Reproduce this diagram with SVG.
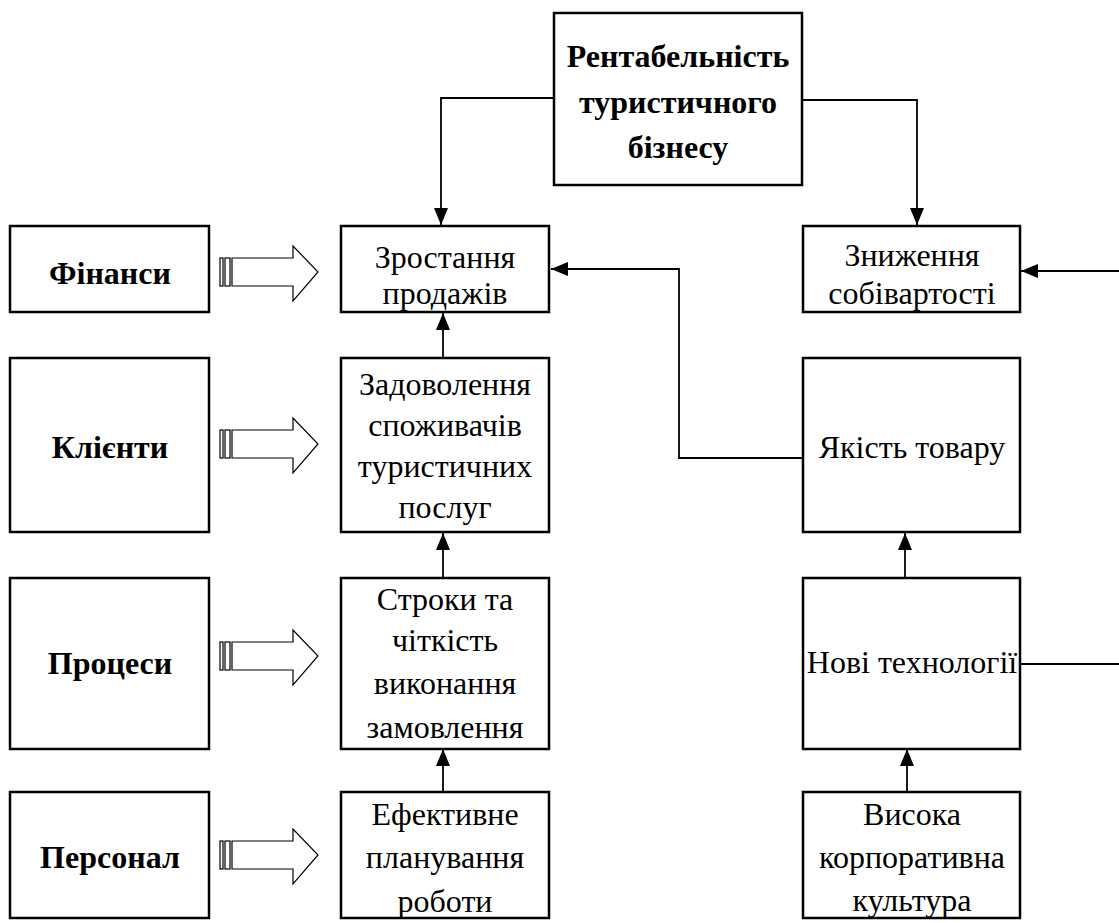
<svg xmlns="http://www.w3.org/2000/svg" width="1119" height="923" viewBox="0 0 1119 923">
<defs>
<style>
.box{fill:#fff;stroke:#000;stroke-width:2.5}
.t{font-family:'Liberation Serif','Times New Roman',serif;font-size:32px;fill:#000;text-anchor:middle}
.b{font-weight:bold}
.c{fill:none;stroke:#000;stroke-width:1.8}
.ba{fill:#fff;stroke:#000;stroke-width:1.2}
</style>
<marker id="ahL" viewBox="0 0 17 14" refX="17" refY="7" markerWidth="17" markerHeight="14" markerUnits="userSpaceOnUse" orient="auto">
<path d="M0,0 L17,7 L0,14 Z" fill="#000"/>
</marker>
<g id="blockArrow">
<rect x="0" y="-14" width="3" height="28" class="ba"/>
<rect x="5" y="-14" width="5" height="28" class="ba"/>
<path d="M12,-14 H73 V-26 L98,0 L73,29 V14 H12 Z" class="ba"/>
</g>
</defs>
<rect width="1119" height="923" fill="#fff"/>

<g id="connectors">
<path class="c" d="M554,98 H441 V225" marker-end="url(#ahL)"/>
<path class="c" d="M802,100 H917 V225" marker-end="url(#ahL)"/>
<path class="c" d="M1119,271 H1021" marker-end="url(#ahL)"/>
<path class="c" d="M1020,664 H1119"/>
<path class="c" d="M804,458 H679 V269 H551" marker-end="url(#ahL)"/>
<path class="c" d="M443,357 V313" marker-end="url(#ahL)"/>
<path class="c" d="M443,577 V533" marker-end="url(#ahL)"/>
<path class="c" d="M443,791 V749" marker-end="url(#ahL)"/>
<path class="c" d="M905,577 V533" marker-end="url(#ahL)"/>
<path class="c" d="M907,791 V749" marker-end="url(#ahL)"/>
<use href="#blockArrow" x="220" y="272"/>
<use href="#blockArrow" x="220" y="444"/>
<use href="#blockArrow" x="220" y="656"/>
<use href="#blockArrow" x="220" y="855"/>
</g>

<g id="n-top">
<rect class="box" x="554" y="13" width="248" height="172"/>
<text class="t b" x="678" y="67">Рентабельність</text>
<text class="t b" x="678" y="113">туристичного</text>
<text class="t b" x="678" y="158">бізнесу</text>
</g>

<g id="n-finansy">
<rect class="box" x="10" y="226" width="199" height="86"/>
<text class="t b" x="110" y="284">Фінанси</text>
</g>
<g id="n-klienty">
<rect class="box" x="10" y="358" width="199" height="174"/>
<text class="t b" x="110" y="458">Клієнти</text>
</g>
<g id="n-protsesy">
<rect class="box" x="10" y="578" width="199" height="171"/>
<text class="t b" x="110" y="674">Процеси</text>
</g>
<g id="n-personal">
<rect class="box" x="10" y="792" width="199" height="126"/>
<text class="t b" x="110" y="868">Персонал</text>
</g>

<g id="n-zrostannia">
<rect class="box" x="341" y="226" width="208" height="86"/>
<text class="t" x="445" y="268">Зростання</text>
<text class="t" x="445" y="304">продажів</text>
</g>
<g id="n-zadovolennia">
<rect class="box" x="341" y="358" width="208" height="174"/>
<text class="t" x="445" y="395">Задоволення</text>
<text class="t" x="445" y="436">споживачів</text>
<text class="t" x="445" y="477">туристичних</text>
<text class="t" x="445" y="518">послуг</text>
</g>
<g id="n-stroky">
<rect class="box" x="341" y="578" width="208" height="171"/>
<text class="t" x="445" y="610">Строки та</text>
<text class="t" x="445" y="651">чіткість</text>
<text class="t" x="445" y="694">виконання</text>
<text class="t" x="445" y="738">замовлення</text>
</g>
<g id="n-efektyvne">
<rect class="box" x="341" y="792" width="208" height="126"/>
<text class="t" x="445" y="825">Ефективне</text>
<text class="t" x="445" y="868">планування</text>
<text class="t" x="445" y="912">роботи</text>
</g>

<g id="n-znyzhennia">
<rect class="box" x="803" y="226" width="217" height="86"/>
<text class="t" x="912" y="266">Зниження</text>
<text class="t" x="912" y="304">собівартості</text>
</g>
<g id="n-yakist">
<rect class="box" x="803" y="358" width="217" height="174"/>
<text class="t" x="912" y="458">Якість товару</text>
</g>
<g id="n-novi">
<rect class="box" x="803" y="578" width="217" height="171"/>
<text class="t" x="912" y="673">Нові технології</text>
</g>
<g id="n-vysoka">
<rect class="box" x="803" y="792" width="217" height="126"/>
<text class="t" x="912" y="825">Висока</text>
<text class="t" x="912" y="868">корпоративна</text>
<text class="t" x="912" y="911">культура</text>
</g>
</svg>
